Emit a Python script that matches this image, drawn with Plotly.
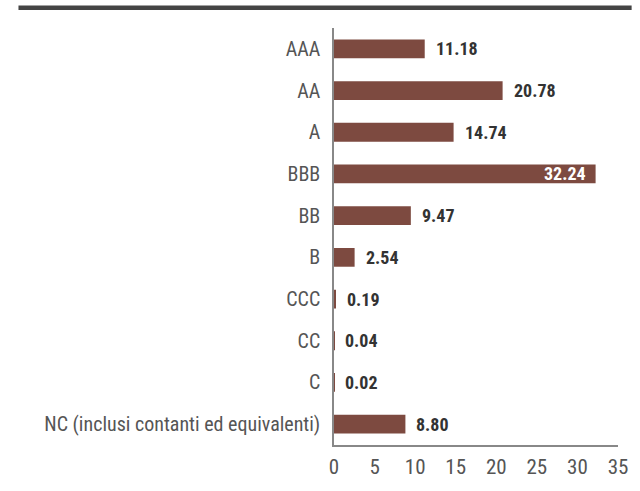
import plotly.graph_objects as go

categories = ["AAA", "AA", "A", "BBB", "BB", "B", "CCC", "CC", "C",
              "NC (inclusi contanti ed equivalenti)"]
values = [11.18, 20.78, 14.74, 32.24, 9.47, 2.54, 0.19, 0.04, 0.02, 8.80]
labels = ["11.18", "20.78", "14.74", "32.24", "9.47", "2.54", "0.19", "0.04", "0.02", "8.80"]
inside = [False, False, False, True, False, False, False, False, False, False]

BAR = "#7d4a40"
FONT = "Roboto Condensed, Liberation Sans Narrow, sans-serif"

fig = go.Figure(go.Bar(
    x=values, y=categories, orientation="h",
    marker=dict(color=BAR, line=dict(width=0)),
    hoverinfo="skip",
))

annotations = []
for c, v, t, ins in zip(categories, values, labels, inside):
    annotations.append(dict(
        x=v, y=c, xref="x", yref="y", text="<b>" + t + "</b>", showarrow=False,
        xanchor="right" if ins else "left", xshift=-8 if ins else 9,
        font=dict(family=FONT, size=18, color="#ffffff" if ins else "#333333"),
    ))

fig.update_layout(
    width=640, height=491,
    margin=dict(l=334, r=17, t=28, b=39),
    paper_bgcolor="white", plot_bgcolor="white",
    bargap=0.55,
    showlegend=False,
    font=dict(family=FONT, color="#555555", size=20),
    annotations=annotations,
    shapes=[dict(type="line", xref="paper", yref="paper",
                 x0=-1.111, x1=1.048, y0=1.0488, y1=1.0488,
                 line=dict(color="#444444", width=4.5))],
)
fig.update_xaxes(range=[0, 35], dtick=5, tick0=0, showgrid=False, zeroline=False,
                 showline=True, linecolor="#888888", linewidth=1.5,
                 ticks="", tickfont=dict(size=21, color="#555555"),
                 ticklabelstandoff=2)
fig.update_yaxes(autorange="reversed", showgrid=False, zeroline=False,
                 showline=True, linecolor="#888888", linewidth=1.5,
                 ticks="", tickfont=dict(size=20, color="#555555"),
                 ticklabelstandoff=8)

fig.write_html("out.html", config={"displayModeBar": False},
               post_script="document.body.style.margin='0';")
